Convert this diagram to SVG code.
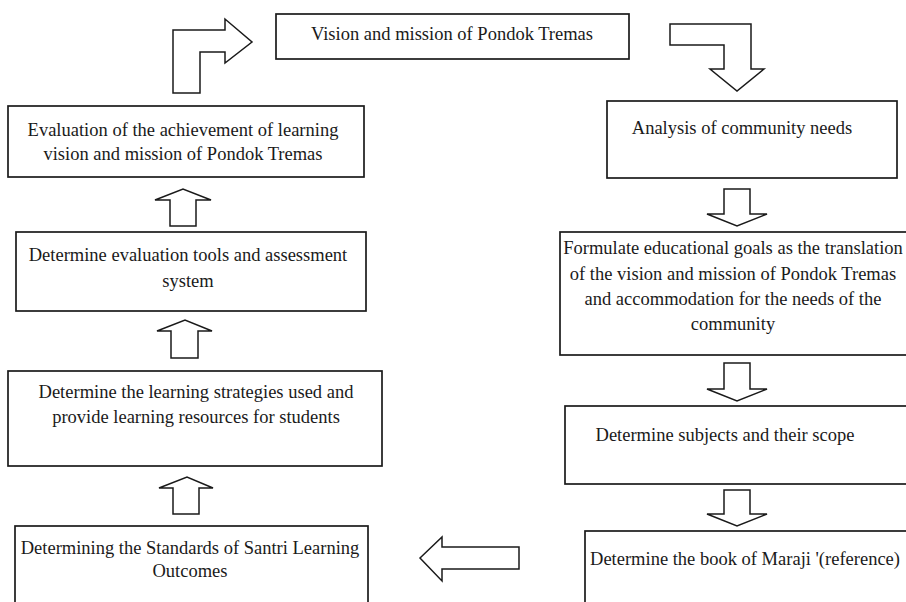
<svg xmlns="http://www.w3.org/2000/svg" width="906" height="602" viewBox="0 0 906 602">
<style>
.box{fill:#fff;stroke:#1a1a1a;stroke-width:1.7}
.arr{fill:#fff;stroke:#1a1a1a;stroke-width:1.5;stroke-linejoin:miter}
text{font-family:"Liberation Serif","Times New Roman",serif;font-size:18.5px;fill:#1a1a1a;text-anchor:middle}
</style>
<rect width="906" height="602" fill="#fff"/>
<g id="connectors">
<path class="arr" d="M173,93 L173,30 L225,30 L225,19 L252,42 L225,63 L225,52 L200,52 L200,93 Z"/>
<path class="arr" d="M670,24 L751,24 L751,69 L764,69 L737,91 L710,69 L724,69 L724,45 L670,45 Z"/>
<path class="arr" d="M724,189 L750,189 L750,214 L767,214 L737,226 L707,214 L724,214 Z"/>
<path class="arr" d="M724,363 L750,363 L750,389 L767,389 L737,401 L707,389 L724,389 Z"/>
<path class="arr" d="M724,490 L750,490 L750,514 L767,514 L737,526 L707,514 L724,514 Z"/>
<path class="arr" d="M420,558 L442,537 L442,547 L519,547 L519,569 L442,569 L442,581 Z"/>
<path class="arr" d="M170,226 L170,200 L155,200 L183,189 L211,200 L196,200 L196,226 Z"/>
<path class="arr" d="M171,358 L171,331 L157,331 L185,320 L212,331 L198,331 L198,358 Z"/>
<path class="arr" d="M173,514 L173,488 L159,488 L187,477 L213,488 L199,488 L199,514 Z"/>
</g>
<g id="vision">
<rect class="box" x="276" y="14" width="353" height="45"/>
<text x="452" y="40">Vision and mission of Pondok Tremas</text>
</g>
<g id="analysis">
<rect class="box" x="607" y="101" width="290" height="77"/>
<text x="742" y="134">Analysis of community needs</text>
</g>
<g id="formulate">
<rect class="box" x="560" y="232" width="360" height="123"/>
<text x="733" y="254">Formulate educational goals as the translation</text>
<text x="733" y="279.5">of the vision and mission of Pondok Tremas</text>
<text x="733" y="305">and accommodation for the needs of the</text>
<text x="733" y="330">community</text>
</g>
<g id="subjects">
<rect class="box" x="565" y="406" width="360" height="78"/>
<text x="725" y="441">Determine subjects and their scope</text>
</g>
<g id="maraji">
<rect class="box" x="585" y="531" width="340" height="90"/>
<text x="745" y="565">Determine the book of Maraji '(reference)</text>
</g>
<g id="standards">
<rect class="box" x="15" y="526" width="353" height="90"/>
<text x="190" y="554">Determining the Standards of Santri Learning</text>
<text x="190" y="577">Outcomes</text>
</g>
<g id="strategies">
<rect class="box" x="8" y="371" width="374" height="95"/>
<text x="196" y="398">Determine the learning strategies used and</text>
<text x="196" y="423">provide learning resources for students</text>
</g>
<g id="tools">
<rect class="box" x="16" y="232" width="350" height="79"/>
<text x="188" y="261">Determine evaluation tools and assessment</text>
<text x="188" y="287">system</text>
</g>
<g id="evaluation">
<rect class="box" x="8" y="106" width="356" height="71"/>
<text x="183" y="136">Evaluation of the achievement of learning</text>
<text x="183" y="160">vision and mission of Pondok Tremas</text>
</g>
</svg>
